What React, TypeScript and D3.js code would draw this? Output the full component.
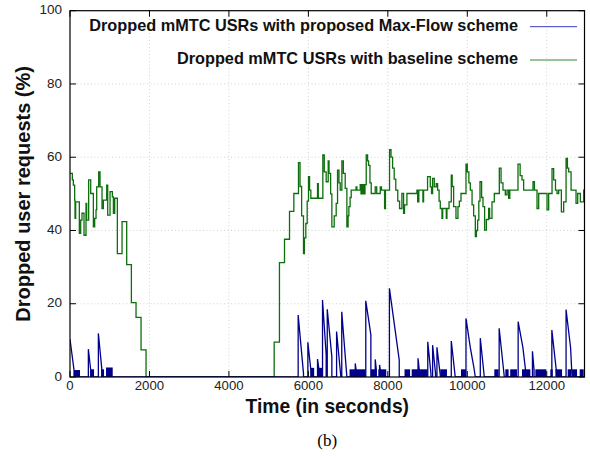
import React from "react";
import * as d3 from "d3";

// [time (s), dropped %] — baseline drawn as steps
const baseline: [number, number][] = [
  [0, 55.6], [59, 53.8], [84, 52.4], [117, 48.3], [126, 43.3], [143, 47.8], [235, 39.2], [269, 42.8],
  [302, 44.7], [353, 38.7], [403, 47.4], [420, 42.8], [470, 53.8], [521, 50.1], [588, 41], [621, 43.3],
  [655, 45.6], [672, 51.9], [722, 56], [756, 51.9], [806, 46], [840, 48.3], [924, 52.4], [949, 44.2],
  [1008, 50.6], [1066, 49.2], [1092, 44.7], [1125, 48.8], [1192, 33.7], [1310, 42.4], [1427, 30.7],
  [1545, 20.3], [1662, 16.3], [1788, 7.4], [1914, 0],
  [5139, 9.5], [5272, 31.2], [5399, 37.6], [5525, 45.2], [5634, 50.1], [5751, 58.5], [5790, 52],
  [5830, 44], [5877, 33.7], [5900, 38], [5936, 41.9], [5970, 48], [6003, 54.7], [6030, 51], [6062, 48.8],
  [6230, 52.8], [6250, 48.8], [6364, 60.6], [6400, 56], [6448, 53.3], [6499, 59], [6520, 55.6],
  [6560, 50], [6591, 41], [6650, 44], [6700, 47.4], [6734, 56.5], [6770, 53], [6801, 51], [6843, 59],
  [6880, 55.6], [6927, 51.5], [6969, 41], [7000, 44], [7019, 46.5], [7050, 49], [7078, 51], [7200, 51.9],
  [7221, 51], [7305, 52.5], [7325, 50], [7345, 52.5], [7365, 50], [7385, 52.5], [7405, 50], [7425, 52.5],
  [7456, 60.6], [7490, 59], [7515, 57.8], [7550, 53], [7582, 50.1], [7683, 51.9], [7720, 50.1],
  [7809, 51.9], [7840, 51], [7918, 46], [7940, 51], [8043, 62.1], [8080, 60], [8120, 57], [8160, 54],
  [8200, 51], [8250, 48], [8295, 46], [8354, 50.1], [8396, 44.7], [8420, 47], [8480, 50.1], [8732, 51],
  [8750, 47.8], [8780, 51], [8883, 47.8], [8900, 51], [9000, 54.7], [9068, 51.9], [9100, 50.1],
  [9127, 54.2], [9169, 51.9], [9219, 52.8], [9253, 51], [9290, 48], [9320, 46], [9363, 43.3], [9380, 46],
  [9471, 43.3], [9488, 46], [9540, 47.8], [9597, 55.1], [9620, 52], [9656, 46.5], [9715, 43.3],
  [9765, 46.5], [9800, 48], [9841, 50.1], [9967, 58.1], [10000, 56], [10040, 53], [10076, 51],
  [10120, 47], [10160, 44], [10202, 38.3], [10230, 40], [10260, 42.8], [10290, 48], [10320, 53.3],
  [10360, 49], [10395, 46.5], [10436, 40.1], [10480, 43], [10537, 46], [10562, 43.3], [10621, 47.8],
  [10680, 50.1], [10806, 57], [10850, 53], [10898, 51], [10957, 49.7], [11000, 51], [11040, 48.8],
  [11070, 51], [11276, 58.1], [11330, 55], [11377, 53.8], [11418, 51], [11654, 53.3], [11690, 51],
  [11755, 46], [11797, 50.1], [12007, 45.6], [12048, 50.1], [12133, 56.9], [12174, 53.8], [12220, 51],
  [12259, 50.1], [12300, 51], [12368, 45.1], [12426, 47.8], [12486, 59.7], [12520, 57], [12552, 56],
  [12612, 51], [12695, 51], [12737, 47.4], [12779, 50.1], [12846, 47.8], [12930, 51], [12950, 51],
];

// proposed scheme: vertical rise, linear decay
const proposed: [number, number][] = [
  [0, 10.3], [101, 1.9], [101, 0], [462, 0], [462, 7.6], [521, 1.9], [521, 0], [714, 0], [714, 11.9],
  [798, 2.5], [798, 0], [5743, 0], [5743, 16.9], [5877, 1], [5877, 0], [5987, 0], [5987, 9.5],
  [6062, 1.9], [6062, 0], [6230, 0], [6230, 4.9], [6260, 2.6], [6260, 0], [6356, 0], [6356, 21],
  [6448, 6], [6448, 0], [6475, 0], [6475, 18.5], [6591, 5.5], [6591, 0], [6710, 0], [6710, 12.4],
  [6818, 0], [6840, 0], [6840, 17.8], [6969, 0], [7180, 0], [7180, 3.7], [7200, 2], [7200, 0],
  [7445, 0], [7445, 20.8], [7573, 11.5], [7573, 0], [7683, 0], [7683, 4.8], [7710, 2], [7710, 0],
  [7792, 0], [7792, 3.3], [7810, 2], [7810, 0], [8040, 0], [8040, 24.2], [8287, 4.6], [8287, 0],
  [8760, 0], [8760, 5.1], [8790, 2], [8790, 0], [9005, 0], [9005, 9.6], [9085, 1], [9085, 0],
  [9127, 0], [9127, 8.7], [9200, 1], [9200, 0], [9236, 0], [9236, 8.1], [9320, 0.5], [9320, 0],
  [9597, 0], [9597, 9.8], [9697, 0], [9967, 0], [9967, 16], [10076, 8], [10160, 3], [10202, 0],
  [10327, 0], [10327, 10.6], [10428, 0], [10802, 0], [10802, 13.3], [10932, 0], [11280, 0],
  [11280, 15.1], [11400, 8], [11486, 0], [11640, 0], [11640, 7], [11680, 2], [11680, 0], [12128, 0],
  [12128, 12.8], [12259, 0], [12486, 0], [12486, 18.4], [12600, 8], [12636, 0], [12950, 0],
];

// dense 0–2 % oscillation of the proposed scheme: [from, to, level]
const proposedBursts: [number, number, number][] = [
  [101, 252, 1.9], [521, 605, 2.1], [798, 857, 2.1], [907, 1075, 2.6],
  [6062, 6146, 2.5], [6230, 6356, 2.5], [7036, 7440, 2.1], [7573, 7700, 2.1], [7760, 7960, 2.1],
  [8420, 8560, 2.1], [8600, 9000, 2.1], [9320, 9488, 2.1], [9841, 9967, 2.1], [10680, 10789, 2.1],
  [10957, 11040, 2.1], [11080, 11250, 2.1], [11377, 11587, 2.1], [11713, 11990, 2.1],
  [12090, 12150, 2.1], [12217, 12385, 2.1], [12527, 12612, 2.1], [12637, 12762, 2.1],
  [12829, 12930, 2.1],
];

const xTicks = [0, 2000, 4000, 6000, 8000, 10000, 12000];
const yTicks = [0, 20, 40, 60, 80, 100];

const legendItems = [
  { label: "Dropped mMTC USRs with proposed Max-Flow scheme", color: "#3a3ac8" },
  { label: "Dropped mMTC USRs with baseline scheme", color: "#2f8a2f" },
];

const W = 590, H = 458;
const sans = "'Liberation Sans', Arial, Helvetica, sans-serif";

export default function App() {
  const x = d3.scaleLinear().domain([0, 12950]).range([70, 584.5]);
  const y = d3.scaleLinear().domain([0, 100]).range([377, 10.7]);
  const [x0, x1] = x.range();
  const [y0, y1] = y.range();

  const stepLine = d3.line<[number, number]>().x((d) => x(d[0])).y((d) => y(d[1])).curve(d3.curveStepAfter);
  const line = d3.line<[number, number]>().x((d) => x(d[0])).y((d) => y(d[1]));

  return (
    <svg width={W} height={H} style={{ position: "absolute", left: 0, top: 0, background: "#fff" }}>
      <defs>
        <clipPath id="plot">
          <rect x={x0} y={y1} width={x1 - x0} height={y0 - y1} />
        </clipPath>
      </defs>
      {/* grid */}
      {xTicks.slice(1).map((t) => (
        <line key={"gx" + t} x1={x(t)} x2={x(t)} y1={y0} y2={y1} stroke="#c8c8c8" strokeWidth={0.8} strokeDasharray="1,2.5" />
      ))}
      {yTicks.slice(1, -1).map((t) => (
        <line key={"gy" + t} x1={x0} x2={x1} y1={y(t)} y2={y(t)} stroke="#c8c8c8" strokeWidth={0.8} strokeDasharray="1,2.5" />
      ))}

      <g clipPath="url(#plot)">
        <path d={stepLine(baseline) || ""} fill="none" stroke="#0c6e0c" strokeWidth={1.3} />
        {proposedBursts.map(([a, b, v], i) => (
          <rect key={i} x={x(a)} y={y(v)} width={x(b) - x(a)} height={y(0) - y(v)} fill="#00008b" />
        ))}
        <path d={line(proposed) || ""} fill="none" stroke="#00008b" strokeWidth={1.3} />
      </g>

      {/* frame and inward ticks */}
      <rect x={x0} y={y1} width={x1 - x0} height={y0 - y1} fill="none" stroke="#000" strokeWidth={1.2} />
      {xTicks.map((t) => (
        <g key={"tx" + t}>
          <line x1={x(t)} x2={x(t)} y1={y0} y2={y0 - 6} stroke="#000" />
          <line x1={x(t)} x2={x(t)} y1={y1} y2={y1 + 6} stroke="#000" />
          <text x={x(t)} y={387} textAnchor="middle" dominantBaseline="middle" fontFamily={sans} fontSize={13.2} fill="#222">
            {t}
          </text>
        </g>
      ))}
      {yTicks.map((t) => (
        <g key={"ty" + t}>
          <line x1={x0} x2={x0 + 6} y1={y(t)} y2={y(t)} stroke="#000" />
          <line x1={x1} x2={x1 - 6} y1={y(t)} y2={y(t)} stroke="#000" />
          <text x={62} y={y(t)} textAnchor="end" dominantBaseline="middle" fontFamily={sans} fontSize={13.5} fill="#222">
            {t}
          </text>
        </g>
      ))}

      {/* legend */}
      {legendItems.map((d, i) => {
        const ly = 26.7 + i * 33.3;
        return (
          <g key={d.label}>
            <text x={518} y={ly} textAnchor="end" dominantBaseline="middle" fontFamily={sans} fontWeight="bold" fontSize={16.3} fill="#111">
              {d.label}
            </text>
            <line x1={530} x2={577} y1={ly} y2={ly} stroke={d.color} strokeWidth={1} />
          </g>
        );
      })}

      {/* axis titles */}
      <text x={(x0 + x1) / 2} y={407.5} textAnchor="middle" dominantBaseline="middle" fontFamily={sans} fontWeight="bold" fontSize={19.3} fill="#111">
        Time (in seconds)
      </text>
      <text
        transform={`translate(25,${(y0 + y1) / 2}) rotate(-90)`}
        textAnchor="middle"
        dominantBaseline="middle"
        fontFamily={sans}
        fontWeight="bold"
        fontSize={20}
        fill="#111"
      >
        Dropped user requests (%)
      </text>
      <text x={(x0 + x1) / 2} y={442} textAnchor="middle" dominantBaseline="middle" fontFamily="'Liberation Serif', 'Times New Roman', serif" fontSize={17} fill="#000">
        (b)
      </text>
    </svg>
  );
}
